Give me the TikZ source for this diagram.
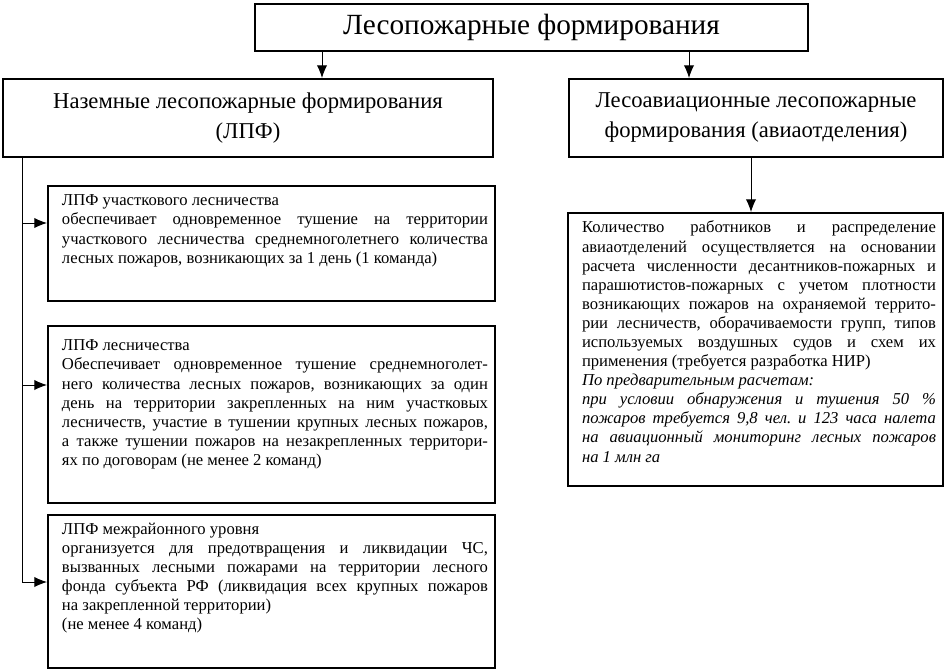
\documentclass[tikz,border=0pt]{standalone}
\usepackage{fontspec}
\setmainfont{Liberation Serif}
\usepackage{tikz}
\usetikzlibrary{positioning, arrows.meta}

\newlength{\px}
\setlength{\px}{0.03cm}

\begin{document}
\begin{tikzpicture}[>={Latex[length=3.8mm,width=3.1mm]}, x=0.03cm, y=-0.03cm] % coordinate in pixel
    % Stili per riquadri e collegamenti
    \tikzset{
        riquadro/.style={
            draw=black,
            line width=1.7pt,
            anchor=north west,
            inner sep=0pt
        },
        freccia/.style={->, line width=0.8pt},
        linea/.style={line width=0.8pt}
    }

    % Testo centrato: larghezza, altezza, corpo, interlinea, testo
    \def\cella#1#2#3#4#5{\parbox[c][#2\px][c]{#1\px}{\centering\fontsize{#3}{#4}\selectfont #5}}
    % Testo giustificato: spazio sopra, larghezza, altezza, testo
    \def\blocco#1#2#3#4{\hspace*{14\px}\parbox[c][#3\px][t]{#2\px}{%
        \fontsize{14.2}{16.3}\selectfont\frenchspacing\hyphenpenalty=10000 \tolerance=10000
        \vspace*{#1\px}#4}\hspace*{7\px}}

    \useasboundingbox (0,0) rectangle (946,669);

    % --- Livello superiore ---
    \node[riquadro] (titolo) at (254,3) {\cella{553}{47}{25}{30}{Лесопожарные формирования}};

    % --- Intestazioni ---
    \node[riquadro] (terrestri) at (2,78) {\cella{490}{78}{19.3}{25.6}{Наземные лесопожарные формирования\\(ЛПФ)}};
    \node[riquadro] (aerei) at (568,78) {\cella{374}{78}{19.3}{25.6}{Лесоавиационные лесопожарные\\формирования (авиаотделения)}};

    % --- Riquadri ЛПФ (a sinistra) ---
    \node[riquadro] (lpf1) at (47,185) {\blocco{9}{426}{115}{ЛПФ участкового лесничества\\
        обеспечивает одновременное тушение на территории\linebreak
        участкового лесничества среднемноголетнего количества\linebreak
        лесных пожаров, возникающих за 1 день (1 команда)}};

    \node[riquadro] (lpf2) at (47,325) {\blocco{14}{426}{177}{ЛПФ лесничества\\
        Обеспечивает одновременное тушение среднемноголет-\linebreak
        него количества лесных пожаров, возникающих за один\linebreak
        день на территории закрепленных на ним участковых\linebreak
        лесничеств, участие в тушении крупных лесных пожаров,\linebreak
        а также тушении пожаров на незакрепленных территори-\linebreak
        ях по договорам (не менее 2 команд)}};

    \node[riquadro] (lpf3) at (47,514) {\blocco{8}{426}{153}{ЛПФ межрайонного уровня\\
        организуется для предотвращения и ликвидации ЧС,\linebreak
        вызванных лесными пожарами на территории лесного\linebreak
        фонда субъекта РФ (ликвидация всех крупных пожаров\linebreak
        на закрепленной территории)\\
        (не менее 4 команд)}};

    % --- Riquadro авиаотделения (a destra) ---
    \node[riquadro] (calcolo) at (567,212) {\blocco{8}{354}{273}{Количество работников и распределение\linebreak
        авиаотделений осуществляется на основании\linebreak
        расчета численности десантников-пожарных и\linebreak
        парашютистов-пожарных с учетом плотности\linebreak
        возникающих пожаров на охраняемой террито-\linebreak
        рии лесничеств, оборачиваемости групп, типов\linebreak
        используемых воздушных судов и схем их\linebreak
        применения (требуется разработка НИР)\\
        \textit{По предварительным расчетам:}\\
        \textit{при условии обнаружения и тушения 50 \%\linebreak
        пожаров требуется 9,8 чел. и 123 часа налета\linebreak
        на авиационный мониторинг лесных пожаров\linebreak
        на 1 млн га}}};

    % --- Collegamenti ---
    \coordinate (c1) at (322,0);
    \coordinate (c2) at (689,0);
    \coordinate (c3) at (751,0);
    \draw[freccia] (titolo.south -| c1) -- (terrestri.north -| c1);
    \draw[freccia] (titolo.south -| c2) -- (aerei.north -| c2);
    \draw[freccia] (aerei.south -| c3) -- (calcolo.north -| c3);

    % Linea verticale a sinistra con le frecce
    \coordinate (r1) at (22,223);
    \coordinate (r2) at (22,385);
    \coordinate (r3) at (22,582);
    \draw[linea] (terrestri.south -| r3) -- (r3);
    \draw[freccia] (r1) -- (lpf1.west |- r1);
    \draw[freccia] (r2) -- (lpf2.west |- r2);
    \draw[freccia] (r3) -- (lpf3.west |- r3);

\end{tikzpicture}
\end{document}
